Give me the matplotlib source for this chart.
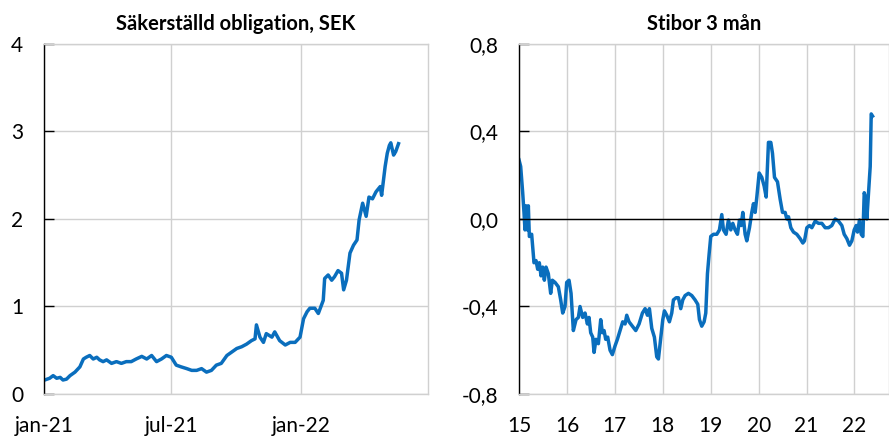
import pandas as pd
import matplotlib.pyplot as plt

plt.rcParams['font.family'] = ['Lato', 'DejaVu Sans']

# Säkerställd obligation, SEK (procent)
bond_dates = [
    '2021-01-02', '2021-01-09', '2021-01-14', '2021-01-19', '2021-01-24', '2021-01-28',
    '2021-02-02', '2021-02-07', '2021-02-14', '2021-02-21', '2021-02-26', '2021-03-02',
    '2021-03-07', '2021-03-12', '2021-03-17', '2021-03-21', '2021-03-26', '2021-03-31',
    '2021-04-07', '2021-04-14', '2021-04-21', '2021-04-28', '2021-05-05', '2021-05-12',
    '2021-05-20', '2021-05-27', '2021-06-03', '2021-06-10', '2021-06-17', '2021-06-24',
    '2021-07-01', '2021-07-08', '2021-07-15', '2021-07-23', '2021-07-30', '2021-08-06',
    '2021-08-13', '2021-08-20', '2021-08-27', '2021-09-03', '2021-09-10', '2021-09-18',
    '2021-09-25', '2021-10-02', '2021-10-09', '2021-10-16', '2021-10-23', '2021-10-28',
    '2021-10-30', '2021-11-04', '2021-11-09', '2021-11-13', '2021-11-21', '2021-11-25',
    '2021-12-02', '2021-12-10', '2021-12-17', '2021-12-24', '2021-12-31', '2022-01-05',
    '2022-01-10', '2022-01-14', '2022-01-21', '2022-01-26', '2022-02-02', '2022-02-04',
    '2022-02-09', '2022-02-14', '2022-02-18', '2022-02-23', '2022-02-28', '2022-03-03',
    '2022-03-07', '2022-03-12', '2022-03-17', '2022-03-22', '2022-03-25', '2022-03-30',
    '2022-04-04', '2022-04-08', '2022-04-13', '2022-04-18', '2022-04-24', '2022-04-26',
    '2022-05-01', '2022-05-04', '2022-05-07', '2022-05-09', '2022-05-13', '2022-05-16',
    '2022-05-20',
]
bond_values = [
    0.16, 0.18, 0.21, 0.18, 0.19, 0.16,
    0.17, 0.21, 0.25, 0.31, 0.40, 0.42,
    0.44, 0.40, 0.42, 0.39, 0.37, 0.39,
    0.35, 0.37, 0.35, 0.37, 0.37, 0.40,
    0.43, 0.40, 0.44, 0.37, 0.40, 0.44,
    0.42, 0.33, 0.31, 0.29, 0.27, 0.27,
    0.29, 0.25, 0.27, 0.33, 0.35, 0.44,
    0.48, 0.52, 0.54, 0.57, 0.61, 0.63,
    0.79, 0.65, 0.59, 0.69, 0.65, 0.71,
    0.61, 0.56, 0.59, 0.59, 0.65, 0.86,
    0.94, 0.98, 0.98, 0.92, 1.07, 1.32,
    1.36, 1.30, 1.34, 1.41, 1.38, 1.19,
    1.30, 1.61, 1.70, 1.76, 1.99, 2.18,
    2.03, 2.25, 2.23, 2.31, 2.37, 2.27,
    2.60, 2.75, 2.84, 2.87, 2.73, 2.77,
    2.86,
]

# Stibor 3 mån (procent), x i decimalår
stibor_years = [
    15.00, 15.035, 15.077, 15.104, 15.125, 15.146, 15.174, 15.195, 15.216, 15.264,
    15.313, 15.355, 15.39, 15.424, 15.459, 15.494, 15.529, 15.564, 15.612, 15.661,
    15.696, 15.752, 15.821, 15.87, 15.912, 15.96, 15.995, 16.044, 16.086, 16.134,
    16.19, 16.239, 16.273, 16.329, 16.378, 16.427, 16.461, 16.496, 16.538, 16.566,
    16.607, 16.656, 16.705, 16.74, 16.775, 16.809, 16.851, 16.9, 16.948, 17.004,
    17.053, 17.109, 17.164, 17.213, 17.248, 17.296, 17.366, 17.436, 17.505, 17.575,
    17.631, 17.679, 17.721, 17.77, 17.825, 17.874, 17.909, 17.944, 18.0, 18.034,
    18.083, 18.138, 18.187, 18.222, 18.278, 18.326, 18.375, 18.417, 18.466, 18.535,
    18.605, 18.674, 18.73, 18.765, 18.813, 18.862, 18.897, 18.932, 18.967, 19.001,
    19.057, 19.127, 19.182, 19.231, 19.266, 19.321, 19.37, 19.419, 19.461, 19.509,
    19.558, 19.6, 19.635, 19.67, 19.718, 19.753, 19.809, 19.857, 19.892, 19.927,
    19.962, 20.011, 20.066, 20.115, 20.157, 20.205, 20.254, 20.289, 20.331, 20.393,
    20.449, 20.498, 20.553, 20.588, 20.623, 20.672, 20.727, 20.797, 20.866, 20.922,
    20.957, 21.006, 21.061, 21.11, 21.18, 21.249, 21.319, 21.388, 21.458, 21.527,
    21.597, 21.667, 21.736, 21.785, 21.841, 21.896, 21.945, 21.994, 22.036, 22.063,
    22.105, 22.14, 22.175, 22.203, 22.23, 22.258, 22.293, 22.328, 22.349, 22.377,
]
stibor_values = [
    0.27, 0.24, 0.12, 0.03, -0.05, 0.06, -0.05, 0.06, -0.08, -0.07,
    -0.20, -0.19, -0.23, -0.20, -0.26, -0.22, -0.28, -0.22, -0.25, -0.34,
    -0.28, -0.29, -0.31, -0.37, -0.43, -0.40, -0.29, -0.28, -0.34, -0.51,
    -0.46, -0.45, -0.40, -0.45, -0.43, -0.48, -0.45, -0.52, -0.54, -0.61,
    -0.55, -0.57, -0.46, -0.52, -0.51, -0.55, -0.54, -0.60, -0.62, -0.58,
    -0.55, -0.51, -0.47, -0.48, -0.44, -0.47, -0.49, -0.51, -0.48, -0.43,
    -0.41, -0.44, -0.41, -0.50, -0.54, -0.63, -0.64, -0.57, -0.46, -0.42,
    -0.44, -0.47, -0.43, -0.37, -0.36, -0.36, -0.41, -0.37, -0.35, -0.34,
    -0.35, -0.37, -0.39, -0.46, -0.49, -0.47, -0.43, -0.25, -0.16, -0.08,
    -0.07, -0.07, -0.05, 0.02, -0.05, -0.07, -0.005, -0.05, -0.02, -0.05,
    -0.07, -0.005, -0.03, 0.03, -0.07, -0.10, -0.04, 0.03, 0.07, 0.03,
    0.10, 0.21, 0.19, 0.15, 0.10, 0.35, 0.35, 0.30, 0.19, 0.17,
    0.09, 0.03, 0.03, 0.00, 0.01, -0.04, -0.06, -0.07, -0.09, -0.11,
    -0.10, -0.04, -0.03, -0.04, -0.01, -0.02, -0.02, -0.04, -0.04, -0.03,
    0.00, -0.01, -0.03, -0.07, -0.09, -0.12, -0.10, -0.05, -0.03, -0.06,
    -0.005, -0.07, -0.08, 0.12, 0.10, 0.00, 0.12, 0.24, 0.48, 0.47,
]

left_yticks = [0, 1, 2, 3, 4]
right_yticks = [-0.8, -0.4, 0.0, 0.4, 0.8]
right_ylabels = ['-0,8', '-0,4', '0,0', '0,4', '0,8']
right_xticks = [15, 16, 17, 18, 19, 20, 21, 22]

blue = '#0A6EBD'
grid_col = '#D0D0D0'

fig = plt.figure(figsize=(8.89, 4.36), dpi=100)
ax1 = fig.add_axes([0.0495, 0.0963, 0.432, 0.803])
ax2 = fig.add_axes([0.5838, 0.0963, 0.4162, 0.803])


def style(ax):
    ax.grid(True, color=grid_col, linewidth=1.0)
    ax.set_axisbelow(True)
    for side in ['top', 'right', 'bottom']:
        ax.spines[side].set_color(grid_col)
        ax.spines[side].set_linewidth(1.0)
    ax.spines['left'].set_color('black')
    ax.spines['left'].set_linewidth(1.0)
    ax.tick_params(axis='y', direction='in', length=7, width=1, pad=15,
                   labelsize=15, color='black')
    ax.tick_params(axis='x', length=0, pad=16, labelsize=15)


# vänster panel
dates = pd.to_datetime(bond_dates)
ax1.plot(dates, bond_values, color=blue, linewidth=2.5)
ax1.set_xlim(pd.Timestamp('2021-01-01'), pd.Timestamp('2022-07-01'))
ax1.set_ylim(0, 4)
ax1.set_yticks(left_yticks)
ax1.set_xticks(pd.to_datetime(['2021-01-01', '2021-07-01', '2022-01-01']))
ax1.set_xticklabels(['jan-21', 'jul-21', 'jan-22'])
style(ax1)
ax1.set_title('Säkerställd obligation, SEK', fontsize=14.5, fontweight='bold', pad=10)

# höger panel
ax2.plot(stibor_years, stibor_values, color=blue, linewidth=2.5)
ax2.axhline(0, color='black', linewidth=1.0)
ax2.set_xlim(15, 22.72)
ax2.set_ylim(-0.8, 0.8)
ax2.set_yticks(right_yticks)
ax2.set_yticklabels(right_ylabels)
ax2.set_xticks(right_xticks)
ax2.set_xticklabels([str(v) for v in right_xticks])
style(ax2)
ax2.set_title('Stibor 3 mån', fontsize=14.5, fontweight='bold', pad=10)

fig.savefig('out.png', dpi=100)
